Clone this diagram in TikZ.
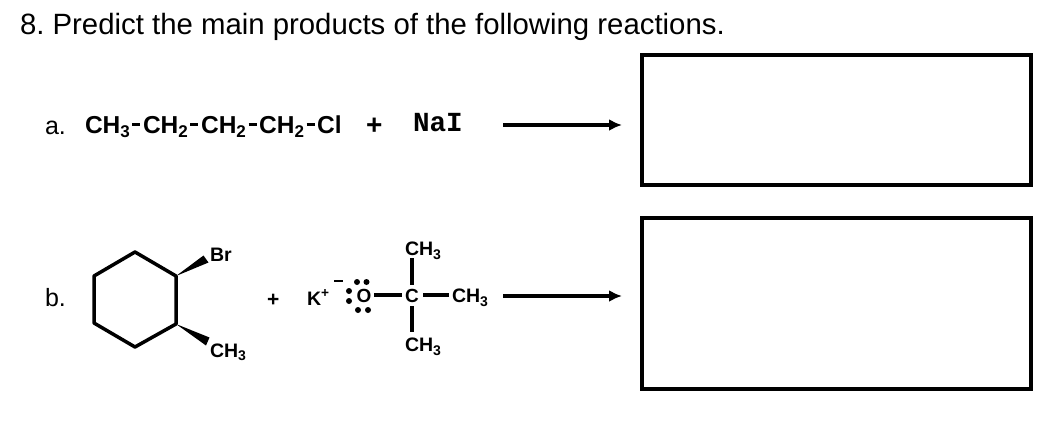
\documentclass[tikz,border=0pt]{standalone}
\usepackage{fontspec}
\setmainfont{Liberation Sans}
\newfontfamily\monofam{Liberation Mono}
\usetikzlibrary{arrows.meta}
\frenchspacing
\tikzset{
 txt/.style={inner sep=0pt,outer sep=0pt,anchor=base west,text=black},
 head/.style={txt,font=\fontsize{29.35}{32}\selectfont},
 lab/.style={txt,font=\fontsize{25}{28}\selectfont},
 chemA/.style={txt,font=\fontsize{24.5}{26}\selectfont\bfseries},
 plusA/.style={txt,font=\fontsize{28}{30}\selectfont\bfseries},
 plusB/.style={txt,font=\fontsize{21}{24}\selectfont\bfseries},
 chemB/.style={txt,font=\fontsize{19.5}{22}\selectfont\bfseries},
 atomB/.style={txt,font=\fontsize{19}{20}\selectfont\bfseries},
 ansbox/.style={draw=black,line width=3.2pt,fill=white,outer sep=0pt,inner sep=0pt},
 rxn/.style={line width=3.2pt,-{Latex[length=13pt,width=12pt]}},
 bond/.style={line width=3.5pt,line cap=round,line join=round},
 thin bond/.style={line width=3.1pt},
 wedgeb/.style={fill=black,draw=none},
 dotp/.style={circle,fill=black,inner sep=0pt,minimum size=6pt},
}
\newcommand{\subA}[1]{\raisebox{-4pt}{\fontsize{17}{18}\selectfont\bfseries #1}}
\newcommand{\subB}[1]{\raisebox{-3.5pt}{\fontsize{14}{15}\selectfont\bfseries #1}}
\newcommand{\dsh}{\hspace{2.6pt}\raisebox{7pt}{\rule{8pt}{3.2pt}}\hspace{2.6pt}}
\begin{document}
\begin{tikzpicture}[x=1pt,y=-1pt]
\useasboundingbox (0,0) rectangle (1060,424);
\node[head] (title) at (20,34) {8. Predict the main products of the following reactions.};
\node[lab] (la) at (45,134) {a.};
\node[lab] (lb) at (45,306) {b.};
\node[chemA] (chain) at (85,133) {CH\subA{3}\dsh CH\subA{2}\dsh CH\subA{2}\dsh CH\subA{2}\dsh Cl};
\node[plusA] (plusa) at (366,134) {+};
\node[txt,font=\fontsize{27.6}{30}\selectfont\bfseries\monofam] (nai) at (413,131) {NaI};
\node[ansbox,minimum width=389pt,minimum height=130pt,anchor=north west] (boxa) at (642,55) {};
\node[ansbox,minimum width=389pt,minimum height=171pt,anchor=north west] (boxb) at (642,218) {};
\coordinate (arsa) at (503,125);
\coordinate (area) at (622,125);
\coordinate (arsb) at (503,296);
\coordinate (areb) at (622,296);
\draw[rxn] (arsa) -- (area);
\draw[rxn] (arsb) -- (areb);
% ring
\coordinate (r1) at (135,252);
\coordinate (r2) at (176,276);
\coordinate (r3) at (176,324);
\coordinate (r4) at (135,347);
\coordinate (r5) at (94,323);
\coordinate (r6) at (94,276);
\draw[bond] (r1) -- (r2) -- (r3) -- (r4) -- (r5) -- (r6) -- cycle;
\coordinate (w1a) at (203.5,255.5);
\coordinate (w1b) at (208.5,262.5);
\coordinate (w2a) at (209.5,337.5);
\coordinate (w2b) at (206,345.5);
\fill[wedgeb] (r2) -- (w1a) -- (w1b) -- cycle;
\fill[wedgeb] (r3) -- (w2a) -- (w2b) -- cycle;
\node[chemB] (br) at (210,261) {Br};
\node[chemB] (ch3a) at (210,357) {CH\subB{3}};
\node[plusB] (plusb) at (267,306) {+};
\node[chemB] (k) at (307,305) {K\textsuperscript{+}};
\node[atomB] (o) at (356.5,302.5) {O};
\node[atomB] (c) at (405,302.5) {C};
\node[chemB] (me1) at (405,255.5) {CH\subB{3}};
\node[chemB] (me2) at (452,302.5) {CH\subB{3}};
\node[chemB] (me3) at (405,351.5) {CH\subB{3}};
\coordinate (bo) at (374,295);
\coordinate (bc1) at (402,295);
\coordinate (bc2) at (423,295);
\coordinate (bme2) at (449,295);
\coordinate (bme1) at (412,258);
\coordinate (bc3) at (412,285);
\coordinate (bc4) at (412,306);
\coordinate (bme3) at (412,332);
\draw[thin bond] (bo) -- (bc1);
\draw[thin bond] (bc2) -- (bme2);
\draw[thin bond] (bme1) -- (bc3);
\draw[thin bond] (bc4) -- (bme3);
\node[dotp] (d1) at (357,282) {};
\node[dotp] (d2) at (366.5,282) {};
\node[dotp] (d3) at (358,310) {};
\node[dotp] (d4) at (368,310) {};
\node[dotp] (d5) at (349,291) {};
\node[dotp] (d6) at (349,301) {};
\coordinate (m1) at (334,281);
\coordinate (m2) at (343,281);
\draw[line width=2.2pt] (m1) -- (m2);
\end{tikzpicture}
\end{document}
